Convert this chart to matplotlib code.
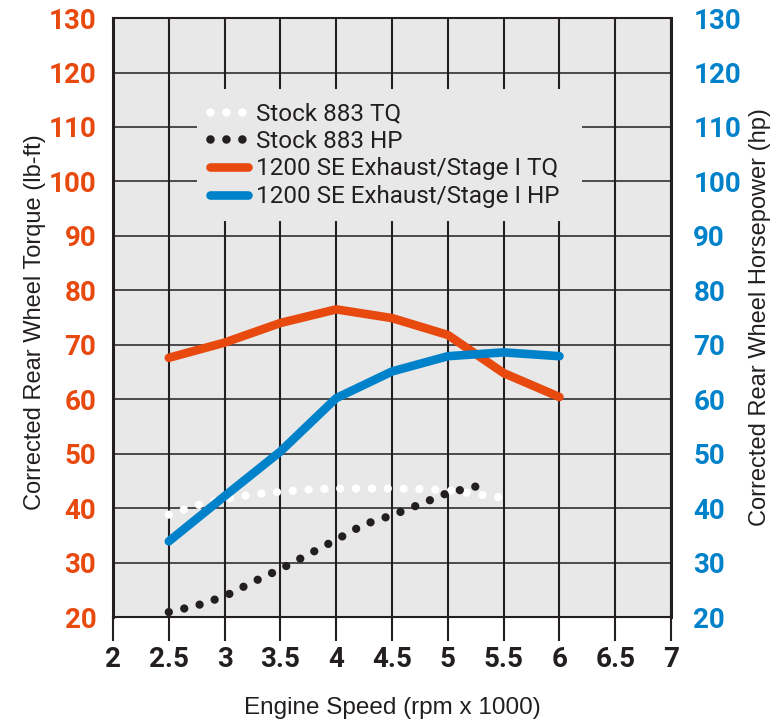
import matplotlib
matplotlib.use("Agg")
import matplotlib.pyplot as plt
from matplotlib.lines import Line2D

# data (engine speed in rpm x 1000)
rpm = [2.5, 3, 3.5, 4, 4.5, 5, 5.5, 6]
se_tq = [67.6, 70.4, 74.0, 76.5, 74.9, 71.8, 64.8, 60.4]
se_hp = [33.9, 42.2, 50.4, 60.2, 65.1, 67.9, 68.6, 67.9]

stock_tq_rpm = [2.5, 2.75, 3, 3.25, 3.5, 3.75, 4, 4.25, 4.5, 4.75, 5, 5.25, 5.5]
stock_tq = [38.8, 40.5, 41.7, 42.5, 43.0, 43.4, 43.6, 43.6, 43.6, 43.5, 43.3, 42.6, 41.9]

stock_hp_rpm = [2.5, 2.75, 3, 3.25, 3.5, 3.75, 4, 4.25, 4.5, 4.75, 5, 5.3]
stock_hp = [20.9, 22.1, 23.8, 26.4, 28.8, 31.5, 34.2, 37.0, 38.7, 40.7, 42.8, 44.2]

xticks = [2, 2.5, 3, 3.5, 4, 4.5, 5, 5.5, 6, 6.5, 7]
xtick_labels = ["2", "2.5", "3", "3.5", "4", "4.5", "5", "5.5", "6", "6.5", "7"]
yticks = [20, 30, 40, 50, 60, 70, 80, 90, 100, 110, 120, 130]

orange = "#e8490f"
blue = "#0082ca"
dark = "#231f20"
bg = "#e7e8e7"

plt.rcParams["font.family"] = ["Roboto", "DejaVu Sans"]
label_font = ["Liberation Sans", "DejaVu Sans"]

fig = plt.figure(figsize=(7.74, 7.22), dpi=100)
ax = fig.add_axes([0.146, 0.1454, 0.721, 0.8296])
ax.set_facecolor(bg)
ax.set_xlim(2, 7)
ax.set_ylim(20, 130)

ax.set_xticks(xticks)
ax.set_xticklabels(xtick_labels)
ax.set_yticks(yticks)
ax.grid(axis="x", color=dark, linewidth=1.5, zorder=0)
ax.grid(axis="y", color=dark, linewidth=1.1, zorder=0)
ax.set_axisbelow(True)
ax.tick_params(axis="x", length=17, width=1.5, color=dark, pad=4, labelsize=20,
               labelcolor=dark)
ax.tick_params(axis="y", length=0, pad=12, labelsize=20, labelcolor=orange)
for lbl in ax.get_xticklabels() + ax.get_yticklabels():
    lbl.set_fontweight("bold")

for side in ["left", "right"]:
    ax.spines[side].set_linewidth(2.2)
for side in ["top", "bottom"]:
    ax.spines[side].set_linewidth(1.5)
for sp in ax.spines.values():
    sp.set_color(dark)

ax.set_xlabel("Engine Speed (rpm x 1000)", fontsize=17.5, color=dark, family=label_font)
ax.xaxis.set_label_coords(0.5, -0.152)
ax.xaxis.label.set_verticalalignment("center")
ax.set_ylabel("Corrected Rear Wheel Torque (lb-ft)", fontsize=17, color=dark,
              family=label_font)
ax.yaxis.set_label_coords(-0.14, 0.4925)
ax.yaxis.label.set_verticalalignment("center")

ax2 = ax.twinx()
ax2.set_ylim(20, 130)
ax2.set_yticks(yticks)
ax2.tick_params(axis="y", length=0, pad=16, labelsize=20, labelcolor=blue)
for lbl in ax2.get_yticklabels():
    lbl.set_fontweight("bold")
for sp in ax2.spines.values():
    sp.set_visible(False)
ax2.set_ylabel("Corrected Rear Wheel Horsepower (hp)", fontsize=17, color=dark,
               family=label_font)
ax2.yaxis.set_label_coords(1.16, 0.501)
ax2.yaxis.label.set_verticalalignment("center")

dots = (0, (0.001, 1.9))
ax.plot(rpm, se_tq, color=orange, linewidth=6.2, solid_capstyle="round",
        solid_joinstyle="round", zorder=3)
ax2.plot(rpm, se_hp, color=blue, linewidth=6.2, solid_capstyle="round",
         solid_joinstyle="round", zorder=3)
ax.plot(stock_tq_rpm, stock_tq, color="white", linewidth=6, linestyle=dots,
        dash_capstyle="round", zorder=4)
ax2.plot(stock_hp_rpm, stock_hp, color=dark, linewidth=6, linestyle=dots,
         dash_capstyle="round", zorder=4)

handles = [
    Line2D([], [], color="white", linewidth=6.2, linestyle=(0, (0.001, 1.85)), dash_capstyle="round"),
    Line2D([], [], color=dark, linewidth=6.2, linestyle=(0, (0.001, 1.85)), dash_capstyle="round"),
    Line2D([], [], color=orange, linewidth=6.2, solid_capstyle="round"),
    Line2D([], [], color=blue, linewidth=6.2, solid_capstyle="round"),
]
labels = ["Stock 883 TQ", "Stock 883 HP", "1200 SE Exhaust/Stage I TQ",
          "1200 SE Exhaust/Stage I HP"]
leg = ax2.legend(handles, labels, loc="upper left",
                 bbox_to_anchor=(2.75, 93.9, 3.45, 23.1), mode="expand",
                 bbox_transform=ax.transData, frameon=True,
                 prop={"size": 17.5},
                 facecolor=bg, edgecolor="none", framealpha=1, fancybox=False,
                 handlelength=1.55, handletextpad=0.35, labelspacing=0.19,
                 borderpad=0.55, borderaxespad=0)
for t in leg.get_texts():
    t.set_color(dark)

fig.savefig("out.png", dpi=100)
